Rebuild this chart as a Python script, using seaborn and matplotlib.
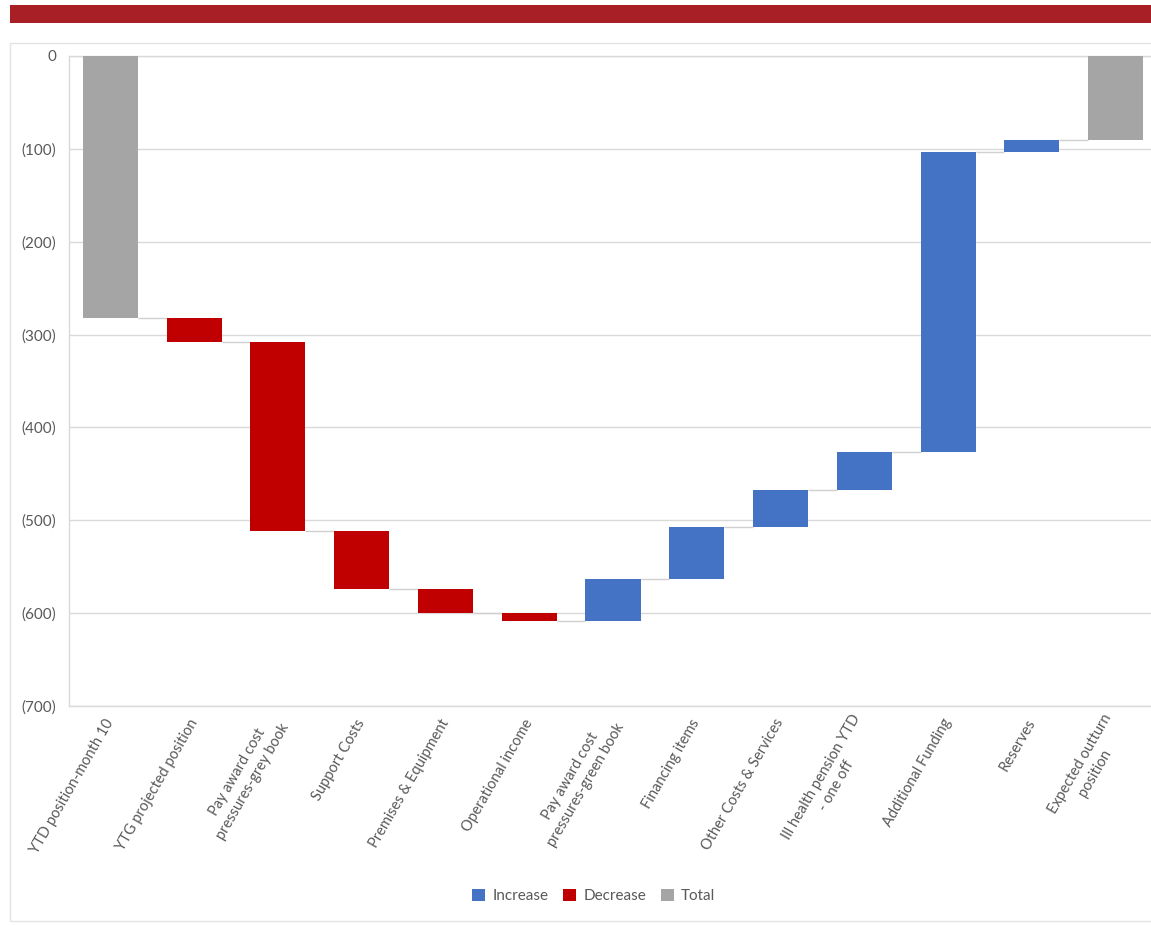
import numpy as np
import pandas as pd
import matplotlib.pyplot as plt
import matplotlib.patches as mpatches
from matplotlib.ticker import FuncFormatter
import seaborn as sns


# Waterfall data (in thousands)
categories = ["YTD position-month 10", "YTG projected position", "Pay award cost\npressures-grey book",
              "Support Costs", "Premises & Equipment", "Operational income",
              "Pay award cost\npressures-green book", "Financing items", "Other Costs & Services",
              "Ill health pension YTD\n- one off", "Additional Funding", "Reserves",
              "Expected outturn\nposition"]
changes = [-282.5, -26, -203, -62.5, -26, -8.5, 45.5, 56, 40, 40.5, 323, 13, -91]
kinds = ["Total", "Decrease", "Decrease", "Decrease", "Decrease", "Decrease",
         "Increase", "Increase", "Increase", "Increase", "Increase", "Increase", "Total"]

colors = {"Increase": "#4472C4", "Decrease": "#C00000", "Total": "#A5A5A5"}
text_col = "#595959"
grid_col = "#D9D9D9"

# bottoms of the floating bars
levels = np.cumsum(changes[:-1])
bottoms = np.concatenate([[0], levels])
bottoms[-1] = 0  # final total starts from zero

df = pd.DataFrame({"cat": categories, "val": changes, "bottom": bottoms, "kind": kinds})

sns.set_theme(style="white")
plt.rcParams['font.family'] = ['Lato', 'DejaVu Sans']

fig = plt.figure(figsize=(11.51, 9.25), dpi=100)

# header band and panel frame
fig.patches.append(mpatches.Rectangle((10 / 1151, 1 - 23 / 925), 1.0, 18 / 925, transform=fig.transFigure,
                                      facecolor="#A81F26", edgecolor="none", zorder=0))
fig.patches.append(mpatches.Rectangle((10 / 1151, 1 - 921 / 925), 1.0, 878 / 925, transform=fig.transFigure,
                                      facecolor="none", edgecolor="#E3E3E3", lw=1, zorder=0))

ax = fig.add_axes([68.6 / 1151, (925 - 706) / 925, (1157.4 - 68.6) / 1151, 650 / 925])

bar_w = 0.657
for k in ["Increase", "Decrease", "Total"]:
    sub = df[df["kind"] == k]
    sns.barplot(data=sub, x="cat", y="val", order=categories, color=colors[k], saturation=1,
                width=bar_w, errorbar=None, linewidth=0, bottom=sub["bottom"].values,
                label=k, ax=ax, zorder=3)

# connector lines
x = np.arange(len(categories))
ax.hlines(levels, x[:-1] + bar_w / 2, x[1:] - bar_w / 2, color="#D0D0D0", lw=1, zorder=2)

ax.set_ylim(-700, 0)
ax.set_xlim(-0.5, len(categories) - 0.5)
ax.set_yticks(np.arange(-700, 1, 100))
ax.yaxis.set_major_formatter(FuncFormatter(lambda v, p: "0" if v == 0 else "({:,.0f})".format(abs(v))))
ax.yaxis.grid(True, color=grid_col, lw=1)
ax.set_axisbelow(True)
ax.set_xlabel("")
ax.set_ylabel("")
for s in ax.spines.values():
    s.set_color(grid_col)
    s.set_linewidth(1)

ax.tick_params(axis="y", length=0, pad=9, labelsize=11, labelcolor=text_col)
ax.tick_params(axis="x", length=0, pad=10, labelsize=10.5, labelcolor=text_col)
for lab in ax.get_xticklabels():
    lab.set_rotation(60)
    lab.set_ha("right")
    lab.set_va("center")
    lab.set_rotation_mode("anchor")
    lab.set_multialignment("center")
    lab.set_linespacing(1.35)

handles, labels = ax.get_legend_handles_labels()
order = [labels.index(n) for n in ["Increase", "Decrease", "Total"]]
fig.legend([handles[i] for i in order], [labels[i] for i in order], loc="center",
           bbox_to_anchor=(0.516, 0.031), ncol=3, frameon=False, fontsize=11,
           handlelength=0.8, handleheight=0.8, handletextpad=0.5, columnspacing=1.0,
           labelcolor=text_col)
if ax.get_legend() is not None:
    ax.get_legend().remove()

plt.savefig("out.png", dpi=100)
